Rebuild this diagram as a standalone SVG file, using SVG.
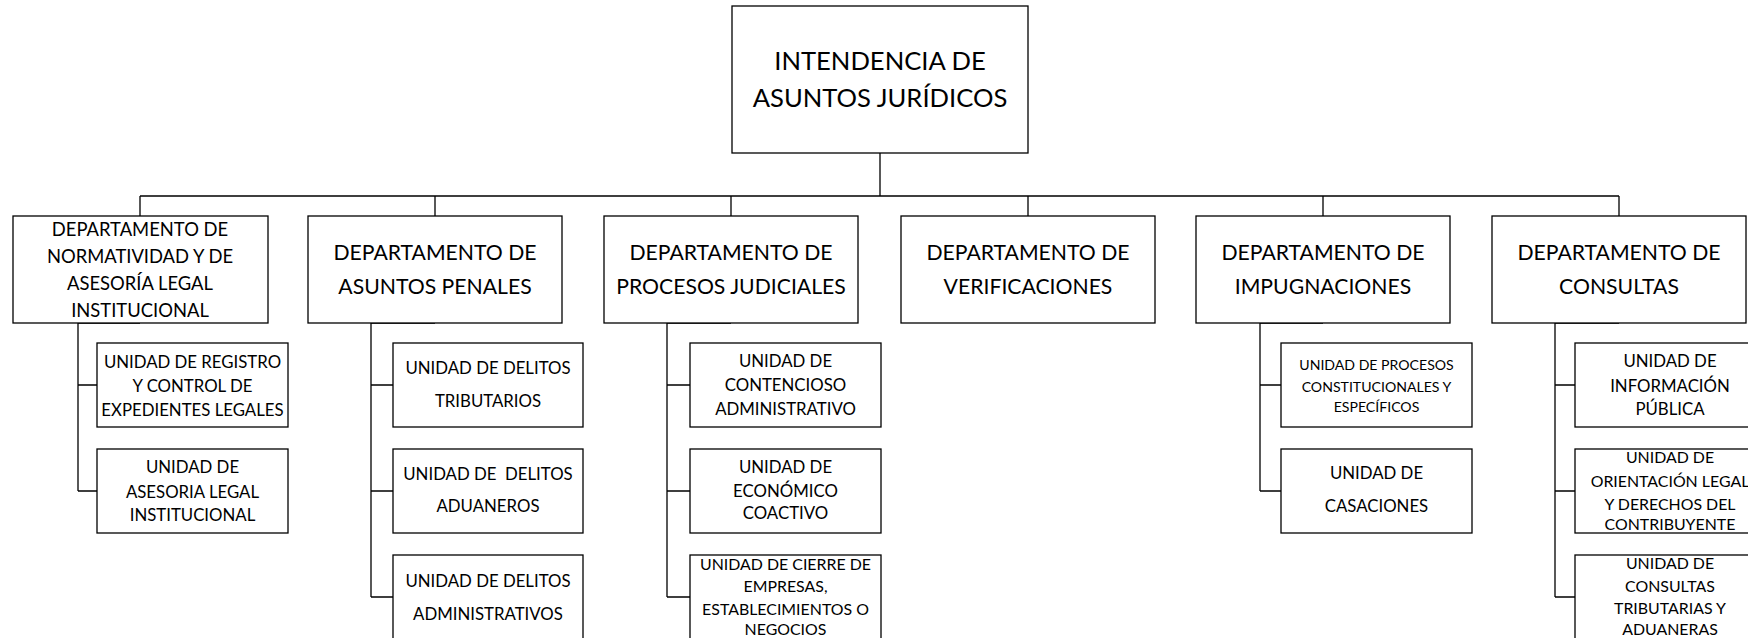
<svg xmlns="http://www.w3.org/2000/svg" width="1748" height="638" viewBox="0 0 1748 638">
<style>
.box{fill:#fff;stroke:#000;stroke-width:1.3}
.conn path{fill:none;stroke:#000;stroke-width:1.3}
text{font-family:Lato,"Open Sans",sans-serif;fill:#000;text-anchor:middle}
.t0{font-size:25.6px}
.t1{font-size:21.2px}
.t1s{font-size:18.4px}
.t2{font-size:16.8px}
.t2s{font-size:15.9px}
.t2x{font-size:14.1px}
</style>
<rect width="1748" height="638" fill="#fff"/>
<g id="connectors" class="conn">
<path d="M880,153V196M140,196H1619M140,196V216M435,196V216M731,196V216M1028,196V216M1323,196V216M1619,196V216"/>
<path d="M140,323H78V491M78,385H97M78,491H97"/>
<path d="M435,323H371V597M371,385H393M371,491H393M371,597H393"/>
<path d="M731,323H667V597M667,385H690M667,491H690M667,597H690"/>
<path d="M1323,323H1260V491M1260,385H1281M1260,491H1281"/>
<path d="M1619,323H1555V597M1555,385H1575M1555,491H1575M1555,597H1575"/>
</g>
<g id="intendencia"><rect class="box" x="732" y="6" width="296" height="147"/><text class="t0" x="880" y="70">INTENDENCIA DE</text><text class="t0" x="880" y="107">ASUNTOS JURÍDICOS</text></g>
<g id="dep-normatividad"><rect class="box" x="13" y="216" width="255" height="107"/><text class="t1s" x="140" y="236">DEPARTAMENTO DE</text><text class="t1s" x="140" y="263">NORMATIVIDAD Y DE</text><text class="t1s" x="140" y="290">ASESORÍA LEGAL</text><text class="t1s" x="140" y="317">INSTITUCIONAL</text></g>
<g id="dep-penales"><rect class="box" x="308" y="216" width="254" height="107"/><text class="t1" x="435" y="260">DEPARTAMENTO DE</text><text class="t1" x="435" y="294">ASUNTOS PENALES</text></g>
<g id="dep-judiciales"><rect class="box" x="604" y="216" width="254" height="107"/><text class="t1" x="731" y="260">DEPARTAMENTO DE</text><text class="t1" x="731" y="294">PROCESOS JUDICIALES</text></g>
<g id="dep-verificaciones"><rect class="box" x="901" y="216" width="254" height="107"/><text class="t1" x="1028" y="260">DEPARTAMENTO DE</text><text class="t1" x="1028" y="294">VERIFICACIONES</text></g>
<g id="dep-impugnaciones"><rect class="box" x="1196" y="216" width="254" height="107"/><text class="t1" x="1323" y="260">DEPARTAMENTO DE</text><text class="t1" x="1323" y="294">IMPUGNACIONES</text></g>
<g id="dep-consultas"><rect class="box" x="1492" y="216" width="254" height="107"/><text class="t1" x="1619" y="260">DEPARTAMENTO DE</text><text class="t1" x="1619" y="294">CONSULTAS</text></g>
<g id="u-registro"><rect class="box" x="97" y="343" width="191" height="84"/><text class="t2" x="192.5" y="368">UNIDAD DE REGISTRO</text><text class="t2" x="192.5" y="392">Y CONTROL DE</text><text class="t2" x="192.5" y="416">EXPEDIENTES LEGALES</text></g>
<g id="u-asesoria"><rect class="box" x="97" y="449" width="191" height="84"/><text class="t2" x="192.5" y="473">UNIDAD DE</text><text class="t2" x="192.5" y="498">ASESORIA LEGAL</text><text class="t2" x="192.5" y="521">INSTITUCIONAL</text></g>
<g id="u-tributarios"><rect class="box" x="393" y="343" width="190" height="84"/><text class="t2" x="488" y="374">UNIDAD DE DELITOS</text><text class="t2" x="488" y="407">TRIBUTARIOS</text></g>
<g id="u-aduaneros"><rect class="box" x="393" y="449" width="190" height="84"/><text class="t2" x="488" y="480" xml:space="preserve">UNIDAD DE  DELITOS</text><text class="t2" x="488" y="512">ADUANEROS</text></g>
<g id="u-administrativos"><rect class="box" x="393" y="555" width="190" height="84"/><text class="t2" x="488" y="587">UNIDAD DE DELITOS</text><text class="t2" x="488" y="620">ADMINISTRATIVOS</text></g>
<g id="u-contencioso"><rect class="box" x="690" y="343" width="191" height="84"/><text class="t2" x="785.5" y="367">UNIDAD DE</text><text class="t2" x="785.5" y="391">CONTENCIOSO</text><text class="t2" x="785.5" y="415">ADMINISTRATIVO</text></g>
<g id="u-coactivo"><rect class="box" x="690" y="449" width="191" height="84"/><text class="t2" x="785.5" y="473">UNIDAD DE</text><text class="t2" x="785.5" y="497">ECONÓMICO</text><text class="t2" x="785.5" y="519">COACTIVO</text></g>
<g id="u-cierre"><rect class="box" x="690" y="555" width="191" height="84"/><text class="t2s" x="785.5" y="570">UNIDAD DE CIERRE DE</text><text class="t2s" x="785.5" y="592">EMPRESAS,</text><text class="t2s" x="785.5" y="615">ESTABLECIMIENTOS O</text><text class="t2s" x="785.5" y="635">NEGOCIOS</text></g>
<g id="u-constitucionales"><rect class="box" x="1281" y="343" width="191" height="84"/><text class="t2x" x="1376.5" y="370">UNIDAD DE PROCESOS</text><text class="t2x" x="1376.5" y="392">CONSTITUCIONALES Y</text><text class="t2x" x="1376.5" y="412">ESPECÍFICOS</text></g>
<g id="u-casaciones"><rect class="box" x="1281" y="449" width="191" height="84"/><text class="t2" x="1376.5" y="479">UNIDAD DE</text><text class="t2" x="1376.5" y="512">CASACIONES</text></g>
<g id="u-informacion"><rect class="box" x="1575" y="343" width="191" height="84"/><text class="t2" x="1670" y="367">UNIDAD DE</text><text class="t2" x="1670" y="392">INFORMACIÓN</text><text class="t2" x="1670" y="415">PÚBLICA</text></g>
<g id="u-orientacion"><rect class="box" x="1575" y="449" width="191" height="84"/><text class="t2s" x="1670" y="463">UNIDAD DE</text><text class="t2s" x="1670" y="487">ORIENTACIÓN LEGAL</text><text class="t2s" x="1670" y="510">Y DERECHOS DEL</text><text class="t2s" x="1670" y="530">CONTRIBUYENTE</text></g>
<g id="u-consultas-trib"><rect class="box" x="1575" y="555" width="191" height="84"/><text class="t2s" x="1670" y="569">UNIDAD DE</text><text class="t2s" x="1670" y="592">CONSULTAS</text><text class="t2s" x="1670" y="614">TRIBUTARIAS Y</text><text class="t2s" x="1670" y="635">ADUANERAS</text></g>
</svg>
